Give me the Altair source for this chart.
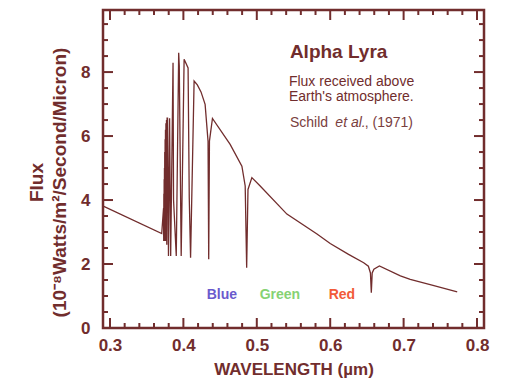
import altair as alt
import pandas as pd

# ---- data ----
wavelength = [0.2908, 0.3705, 0.3727, 0.3730, 0.3732, 0.3734, 0.3736, 0.3738, 0.3740, 0.3742,
              0.3744, 0.3746, 0.3748, 0.3751, 0.3753, 0.3756, 0.3759, 0.3762, 0.3766, 0.3770,
              0.3774, 0.3778, 0.3784, 0.3797, 0.3812, 0.3827, 0.3859, 0.3866, 0.3903, 0.3936,
              0.3944, 0.3970, 0.4010, 0.4064, 0.4080, 0.4098, 0.4146, 0.4190, 0.4240, 0.4296,
              0.4336, 0.4345, 0.4355, 0.4396, 0.4637, 0.4797, 0.4842, 0.4862, 0.4880, 0.4933,
              0.5046, 0.5410, 0.5820, 0.6000, 0.6250, 0.6456, 0.6520, 0.6548, 0.6560, 0.6572,
              0.6595, 0.6670, 0.6956, 0.7090, 0.7400, 0.7730]
flux = [3.81, 2.95, 3.66, 3.75, 2.72, 4.20, 2.72, 4.65, 2.72, 5.00,
        2.72, 5.50, 2.72, 5.90, 2.72, 6.20, 2.72, 6.40, 2.72, 6.50,
        2.60, 6.56, 6.56, 2.25, 6.56, 2.25, 8.29, 4.00, 2.25, 8.60,
        8.20, 2.25, 8.40, 8.13, 4.07, 2.20, 7.72, 7.60, 7.38, 6.99,
        5.84, 2.15, 5.84, 6.55, 5.74, 5.06, 4.44, 1.88, 4.33, 4.70,
        4.44, 3.56, 2.94, 2.64, 2.30, 2.04, 1.93, 1.72, 1.10, 1.72,
        1.84, 1.94, 1.63, 1.52, 1.33, 1.13]
assert len(wavelength) == len(flux)

x_major = [0.3, 0.4, 0.5, 0.6, 0.7, 0.8]
x_minor = [round(0.3 + 0.02 * i, 2) for i in range(26) if i % 5 != 0]
y_major = [0, 2, 4, 6, 8]
y_minor = [0.5 * i for i in range(1, 20) if i % 4 != 0]

note_text = ["Flux received above", "Earth's atmosphere."]
note_x = [0.5437, 0.5437]
note_y = [7.57, 7.08]

band_text = ["Blue", "Green", "Red"]
band_x = [0.4525, 0.5315, 0.6159]
band_y = [1.03, 1.03, 1.03]
band_color = ["#6a5acd", "#86d273", "#f25a38"]

X_DOMAIN = [0.2905, 0.8095]
Y_DOMAIN = [0, 9.94]
W, H = 381, 318
C = "#712d2d"
FONT = "Liberation Sans"

xs = alt.Scale(domain=X_DOMAIN, nice=False, zero=False)
ys = alt.Scale(domain=Y_DOMAIN, nice=False, zero=False)

xaxis = alt.Axis(
    values=x_major, format=".1f", title="WAVELENGTH (µm)",
    labelFont=FONT, labelFontSize=17, labelFontWeight="bold", labelColor=C,
    labelPadding=9, labelFlush=False, ticks=False, domain=False, grid=False,
    titleFont=FONT, titleFontSize=17, titleFontWeight="bold", titleColor=C,
    titlePadding=8)
yaxis = alt.Axis(
    values=y_major, format="d",
    title=["Flux", "(10⁻⁸Watts/m²/Second/Micron)"],
    labelFont=FONT, labelFontSize=17, labelFontWeight="bold", labelColor=C,
    labelPadding=13, labelFlush=False, ticks=False, domain=False, grid=False,
    titleFont=FONT, titleFontSize=19, titleFontWeight="bold", titleColor=C,
    titleLineHeight=23, titlePadding=11, titleY=172)


def X(field):
    return alt.X(field, type="quantitative", scale=xs, axis=xaxis)


def Y(field):
    return alt.Y(field, type="quantitative", scale=ys, axis=yaxis)


spec = pd.DataFrame({"wl": wavelength, "flux": flux, "i": range(len(flux))})

line = alt.Chart(spec).mark_line(color=C, strokeWidth=1.3, clip=True).encode(
    x=X("wl"), y=Y("flux"), order="i:Q")


def xticks(vals, length):
    d = pd.DataFrame({"wl": vals})
    base = alt.Chart(d).mark_rule(color=C, strokeWidth=2)
    bottom = base.encode(x=X("wl"), y=alt.value(H), y2=alt.value(H - length))
    top = base.encode(x=X("wl"), y=alt.value(0), y2=alt.value(length))
    return [bottom, top]


def yticks(vals, length):
    d = pd.DataFrame({"flux": vals})
    base = alt.Chart(d).mark_rule(color=C, strokeWidth=2)
    left = base.encode(y=Y("flux"), x=alt.value(0), x2=alt.value(length))
    right = base.encode(y=Y("flux"), x=alt.value(W), x2=alt.value(W - length))
    return [left, right]


ticks = xticks(x_major, 10) + xticks(x_minor, 5) + yticks(y_major, 10) + yticks(y_minor, 5)


def txt(texts, xv, yv, **kw):
    d = pd.DataFrame({"t": texts, "wl": xv, "flux": yv})
    return alt.Chart(d).mark_text(font=FONT, **kw).encode(
        x=X("wl"), y=Y("flux"), text="t:N")


title_t = txt(["Alpha Lyra"], [0.5451], [8.44], fontSize=19, fontWeight="bold",
              color=C, align="left", baseline="alphabetic")
notes_t = txt(note_text, note_x, note_y, fontSize=14, color=C,
              align="left", baseline="alphabetic")
schild1 = txt(["Schild"], [0.5451], [6.29], fontSize=14, color="#7a4040",
              align="left", baseline="alphabetic")
schild2 = txt(["et al."], [0.6070], [6.29], fontSize=14, fontStyle="italic",
              color="#7a4040", align="left", baseline="alphabetic")
schild3 = txt([", (1971)"], [0.6470], [6.29], fontSize=14, color="#7a4040",
              align="left", baseline="alphabetic")

bd = pd.DataFrame({"t": band_text, "wl": band_x, "flux": band_y, "c": band_color})
bands = alt.Chart(bd).mark_text(font=FONT, fontSize=14, fontWeight="bold",
                                align="center", baseline="middle").encode(
    x=X("wl"), y=Y("flux"), text="t:N",
    color=alt.Color("c:N", scale=None),
)

chart = alt.layer(line, *ticks, title_t, notes_t, schild1, schild2, schild3, bands).properties(
    width=W, height=H,
    background="white",
    autosize=alt.AutoSizeParams(type="none"),
    padding={"left": 103, "top": 10, "right": 22, "bottom": 52},
).configure_view(stroke=C, strokeWidth=2.5)

chart.save("out.html", embed_options={"renderer": "svg", "actions": False})
